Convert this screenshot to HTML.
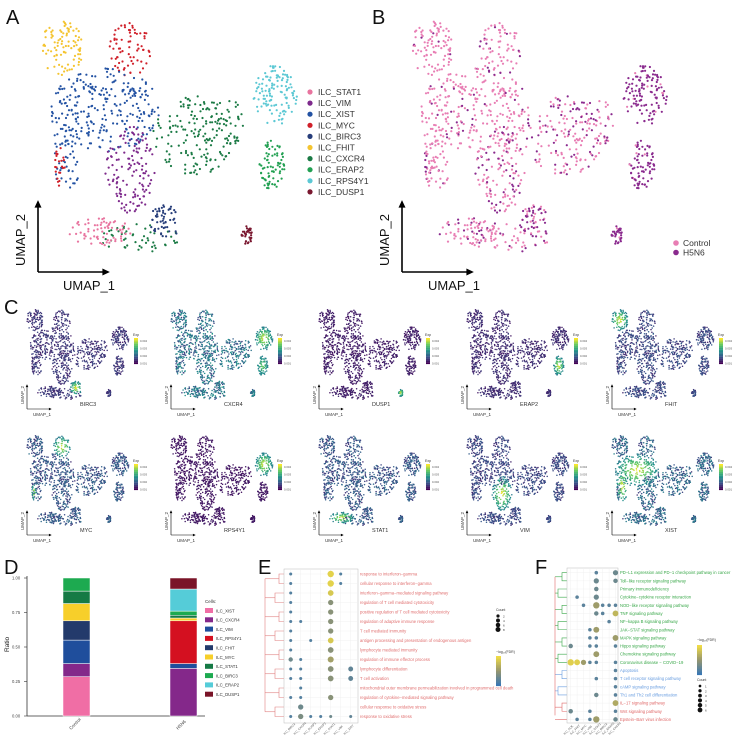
<!DOCTYPE html>
<html><head><meta charset="utf-8"><style>
body{margin:0;background:#fff}
svg{display:block;font-family:"Liberation Sans",sans-serif}
</style></head><body>
<svg id="fig" width="744" height="745" viewBox="0 0 744 745" xmlns="http://www.w3.org/2000/svg">
<g font-size="20" fill="#111">
<text x="6" y="24">A</text>
<text x="372" y="24">B</text>
<text x="4" y="314">C</text>
<text x="4" y="574">D</text>
<text x="258" y="574">E</text>
<text x="535" y="574">F</text>
</g>
<g id="pA"></g>
<g id="pB"></g>
<g id="pC"></g>
<g id="pD"></g>
<g id="pE"></g>
<g id="pF"></g>
</svg>
<script>
// ---- UMAP cluster data (centers/radii in panel-A pixel space) ----
const clusterNames=["ILC_STAT1","ILC_VIM","ILC_XIST","ILC_MYC","ILC_BIRC3","ILC_FHIT","ILC_CXCR4","ILC_ERAP2","ILC_RPS4Y1","ILC_DUSP1"];
const clusterColors=["#e8749f","#7e2a8c","#2352a3","#d0202a","#273e7a","#f4c430","#1b7a45","#22a052","#5cc8d4","#7a1830"];
// blobs: [clusterIndex, cx, cy, rx, ry, count]
const blobs=[[5,62,48,22,27,90],[3,130,50,22,27,70],[2,105,110,55,42,250],[2,68,150,15,45,60],
[1,130,170,25,45,130],[6,195,135,42,40,160],[6,140,238,40,14,50],[7,272,165,13,25,75],
[8,275,95,22,30,120],[9,247,235,6,9,35],[0,100,232,32,14,70],[4,165,222,15,18,55],
[3,60,165,5,22,22],[6,230,120,15,25,30]];
// fraction of H5N6 cells per cluster
const h5n6Frac=[0.3,0.35,0.1,0.2,0.6,0.05,0.4,0.95,0.95,0.95];
const genes=["BIRC3","CXCR4","DUSP1","ERAP2","FHIT","MYC","RPS4Y1","STAT1","VIM","XIST"];
const geneCluster=[4,8,9,7,5,3,8,0,1,2];
const geneBase=[0.15,0.35,0.08,0.12,0.2,0.25,0.06,0.25,0.2,0.3];
// ---- D data ----
const dCells=["ILC_XIST","ILC_CXCR4","ILC_VIM","ILC_RPS4Y1","ILC_FHIT","ILC_MYC","ILC_STAT1","ILC_BIRC3","ILC_ERAP2","ILC_DUSP1"];
const dColors=["#f06ea5","#84288a","#1f4e9c","#d41020","#233a6b","#f7cf2a","#157a45","#1daa50","#55ccd8","#7a1428"];
const dControl=[0.285,0.095,0.17,0,0.14,0.125,0.09,0.095,0,0];
const dH5N6=[0,0.345,0.035,0.31,0,0.02,0.02,0.03,0.16,0.08];
const dGroups=["Control","H5N6"];
const dTicks=[0,0.25,0.5,0.75,1.0];
// ---- E data ----
const eTerms=["response to interferon−gamma","cellular response to interferon−gamma","interferon−gamma−mediated signaling pathway","regulation of T cell mediated cytotoxicity","positive regulation of T cell mediated cytotoxicity","regulation of adaptive immune response","T cell mediated immunity","antigen processing and presentation of endogenous antigen","lymphocyte mediated immunity","regulation of immune effector process","lymphocyte differentiation","T cell activation","mitochondrial outer membrane permeabilization involved in programmed cell death","regulation of cytokine−mediated signaling pathway","cellular response to oxidative stress","response to oxidative stress"];
const eCols=["ILC_BIRC3","ILC_CXCR4","ILC_DUSP1","ILC_ERAP2","ILC_STAT1","ILC_VIM","ILC_XIST"];
// dots: [row,col,count,-log10FDR]
const eDots=[[0,0,1,1],[0,4,8,6.5],[0,5,1,1],[1,0,1,1],[1,4,8,6.5],[1,5,1,1],[2,0,1,1],[2,4,6,6],[3,0,1,1],[3,4,5,3],[4,0,1,1],[4,4,5,3],[5,0,1,1],[5,1,1,1],[5,4,5,3],[6,0,1,1],[6,4,5,3],[7,0,1,1],[7,2,1,1],[7,4,6,6],[8,0,1,1],[8,4,6,3],[9,0,3,2],[9,1,1,1],[9,4,7,4],[10,0,1,1],[10,1,1,1],[10,4,6,3],[10,6,4,1.5],[11,0,1,1],[11,1,1,1],[11,4,6,3],[11,6,4,1.5],[12,1,1,1],[13,0,1,1],[13,1,1,1],[13,4,5,3],[14,1,5,2],[15,0,1,1],[15,1,5,2.5],[15,2,1,1],[15,3,1,1],[15,4,1,2],[15,6,1,1.5]];
// ---- F data ----
const fTerms=["PD−L1 expression and PD−1 checkpoint pathway in cancer","Toll−like receptor signaling pathway","Primary immunodeficiency","Cytokine−cytokine receptor interaction","NOD−like receptor signaling pathway","TNF signaling pathway","NF−kappa B signaling pathway","JAK−STAT signaling pathway","MAPK signaling pathway","Hippo signaling pathway","Chemokine signaling pathway","Coronavirus disease − COVID−19","Apoptosis","T cell receptor signaling pathway","cAMP signaling pathway","Th1 and Th2 cell differentiation","IL−17 signaling pathway","Wnt signaling pathway","Epstein−Barr virus infection"];
const fGroup=[0,0,0,0,0,0,0,0,0,0,0,0,1,1,1,1,2,2,2];
const fCols=["ILC_ACK","ILC_FHIT","ILC_MYC","ILC_VIM","ILC_STAT1","ILC_BIRC3","ILC_ERAP2","ILC_CXCR4"];
const fDots=[[0,4,1,1],[0,7,3,1.5],[1,4,3,1.5],[1,7,2,1.5],[2,4,2,1.5],[3,1,1,1],[3,4,3,1.5],[4,2,1,1],[4,4,5,3],[4,5,1,1],[4,6,1,1],[4,7,1,1],[5,4,2,1.5],[5,5,1,1],[5,7,4,4],[6,6,1,1],[7,3,1,1],[7,4,4,3],[8,3,1,1],[8,4,1,1],[8,7,4,3],[9,0,2,1.5],[9,3,1,1],[9,4,1,1],[9,7,1,1],[10,4,4,3],[11,0,5,5],[11,1,4,5],[11,2,3,3],[11,3,1,1],[11,4,1,1],[11,7,1,1],[12,7,1,1],[13,4,1,1],[13,7,1,1],[14,7,1,1],[15,4,2,1.5],[15,7,1,1],[16,7,4,3.5],[17,0,2,1.5],[17,3,1,1],[17,7,1,1],[18,1,1,1],[18,3,1,1],[18,4,5,3],[18,7,2,1.5]];

const NS="http://www.w3.org/2000/svg";
function mk(p,tag,at){const e=document.createElementNS(NS,tag);for(const k in at)e.setAttribute(k,at[k]);p.appendChild(e);return e;}
function txt(p,x,y,s,fs,fill,extra){const e=mk(p,"text",Object.assign({x:x,y:y,"font-size":fs,fill:fill||"#222"},extra||{}));e.textContent=s;return e;}
// seeded generator (for point texture inside blobs only)
let seed=12345;function rnd(){seed|=0;seed=seed+0x6D2B79F5|0;let t=Math.imul(seed^seed>>>15,1|seed);t=t+Math.imul(t^t>>>7,61|t)^t;return((t^t>>>14)>>>0)/4294967296;}
const pts=[];
blobs.forEach(b=>{for(let i=0;i<b[5];i++){const a=rnd()*2*Math.PI,r=Math.sqrt(rnd());const X=b[1]+Math.cos(a)*r*b[3],Y=b[2]+Math.sin(a)*r*b[4];pts.push({c:b[0],X:X,Y:Y,d:r,h:rnd()});}});
const vir=[[68,1,84],[59,82,139],[33,145,140],[94,201,98],[253,231,37]];
function viridis(t){t=Math.max(0,Math.min(1,t))*4;const i=Math.min(3,Math.floor(t)),f=t-i;const a=vir[i],b=vir[i+1];return`rgb(${a.map((v,k)=>Math.round(v+(b[k]-v)*f)).join(",")})`;}
function arrows(g,ox,oy,len,fs,sw){
 mk(g,"line",{x1:ox,y1:oy,x2:ox,y2:oy-len,stroke:"#000","stroke-width":sw});
 mk(g,"line",{x1:ox,y1:oy,x2:ox+len,y2:oy,stroke:"#000","stroke-width":sw});
 const a=sw*3.5;mk(g,"path",{d:`M${ox-a/1.6},${oy-len+a} L${ox},${oy-len-a/3} L${ox+a/1.6},${oy-len+a}Z`,fill:"#000"});
 mk(g,"path",{d:`M${ox+len-a},${oy-a/1.6} L${ox+len+a/3},${oy} L${ox+len-a},${oy+a/1.6}Z`,fill:"#000"});
}
// ---- Panel A ----
const gA=document.getElementById("pA");
pts.forEach(p=>{const e=mk(gA,"circle",{cx:p.X.toFixed(1),cy:p.Y.toFixed(1),r:1.1,fill:clusterColors[p.c]});

});
arrows(gA,38,272,70,13,1.6);
txt(gA,63,290,"UMAP_1",13,"#111");
txt(gA,0,0,"UMAP_2",13,"#111",{transform:"translate(25,266) rotate(-90)"});
clusterNames.forEach((n,i)=>{const y=92+i*11.1;
 const d=mk(gA,"circle",{cx:310,cy:y,r:2.6,fill:clusterColors[i]});
 
 
 txt(gA,318,y+3,n,8.5,"#333");});
// ---- Panel B ----
const gB=document.getElementById("pB");
pts.forEach(p=>{const h5=p.h<h5n6Frac[p.c];const e=mk(gB,"circle",{cx:(p.X+370).toFixed(1),cy:p.Y.toFixed(1),r:1.1,fill:h5?"#8a2a8e":"#e87eb4"});

});
arrows(gB,402,272,70,13,1.6);
txt(gB,428,290,"UMAP_1",13,"#111");
txt(gB,0,0,"UMAP_2",13,"#111",{transform:"translate(389,266) rotate(-90)"});
[["Control","#e87eb4"],["H5N6","#8a2a8e"]].forEach((l,i)=>{const y=243+i*9.5;
 const d=mk(gB,"circle",{cx:676,cy:y,r:2.8,fill:l[1]});
 
 
 txt(gB,683,y+3,l[0],8.5,"#333");});
// ---- Panel C ----
const gC=document.getElementById("pC");
const colX=[28,172,320,468,613],rowY=[306,432];
genes.forEach((gname,gi)=>{
 const cx=colX[gi%5],ry=rowY[Math.floor(gi/5)];
 const g=mk(gC,"g",{});
 
 
 const hc=geneCluster[gi];
 const arr=pts.map(p=>{let v=geneBase[gi]*(0.5+p.h);if(p.c===hc)v=Math.max(v,1-p.d*0.6);if(gname==="CXCR4"&&p.c===7)v=Math.max(v,0.8-p.d*0.4);return{p:p,v:v};});
 arr.sort((a,b)=>a.v-b.v).forEach(o=>{mk(g,"circle",{cx:(cx+(o.p.X-45)*0.4).toFixed(1),cy:(ry+(o.p.Y-12)*0.39).toFixed(1),r:0.75,fill:viridis(o.v)});});
 arrows(g,cx-1,ry+103,24,5,0.6);
 txt(g,cx+5,ry+110,"UMAP_1",4.5,"#333");
 txt(g,0,0,"UMAP_2",4.5,"#333",{transform:`translate(${cx-4},${ry+98}) rotate(-90)`});
 txt(g,cx+52,ry+100,gname,5.5,"#333");
 txt(g,cx+105,ry+30,"Exp",3.5,"#333");
 for(let k=0;k<20;k++)mk(g,"rect",{x:cx+106,y:ry+32+k*1.3,width:4,height:1.4,fill:viridis(1-k/19)});
 for(let k=0;k<4;k++)txt(g,cx+112,ry+36+k*7.5,"0.00"+(4-k),2.8,"#555");
});
// ---- Panel D ----
const gD=document.getElementById("pD");
const y0=716,y1=578;const yv=v=>y0-v*(y0-y1);
mk(gD,"line",{x1:27,y1:576,x2:27,y2:716,stroke:"#333","stroke-width":0.8});
mk(gD,"line",{x1:27,y1:716,x2:205,y2:716,stroke:"#333","stroke-width":0.8});
dTicks.forEach(t=>{mk(gD,"line",{x1:24,y1:yv(t),x2:27,y2:yv(t),stroke:"#333","stroke-width":0.6});txt(gD,12,yv(t)+1.5,t.toFixed(2),4.2,"#444");});
txt(gD,0,0,"Ratio",6.5,"#222",{transform:"translate(9,652) rotate(-90)"});
const barX=[63,170];
[dControl,dH5N6].forEach((vals,gi)=>{let acc=0;vals.forEach((v,i)=>{if(v<=0)return;
 const r=mk(gD,"rect",{x:barX[gi],y:yv(acc+v),width:27,height:yv(acc)-yv(acc+v),fill:dColors[i],stroke:"#fff","stroke-width":0.5});
 
 acc+=v;});
 txt(gD,0,0,dGroups[gi],4.5,"#444",{transform:`translate(${barX[gi]+8},${730}) rotate(-45)`});});
txt(gD,205,603,"Cells:",4.5,"#333");
dCells.forEach((n,i)=>{const y=608+i*9.3;const r=mk(gD,"rect",{x:205,y:y,width:8,height:5,fill:dColors[i]});
 
 
 txt(gD,216,y+4.3,n,4.3,"#333");});
// ---- dot plot helper ----
function viridisBlue(t){t=Math.max(0,Math.min(1,t));const a=[57,119,180],b=[150,150,110],c=[240,220,70];let r;if(t<0.5){const f=t*2;r=a.map((v,k)=>v+(b[k]-v)*f);}else{const f=(t-0.5)*2;r=b.map((v,k)=>v+(c[k]-v)*f);}return`rgb(${r.map(Math.round).join(",")})`;}
function dotplot(g,terms,cols,dots,box,rowY0,rowStep,colX0,colStep,labelColor,rmax,cmax){
 mk(g,"rect",{x:box[0],y:box[1],width:box[2],height:box[3],fill:"none",stroke:"#bbb","stroke-width":0.5});
 terms.forEach((t,i)=>{const y=rowY0+i*rowStep;mk(g,"line",{x1:box[0],y1:y,x2:box[0]+box[2],y2:y,stroke:"#eee","stroke-width":0.4});
  const e=txt(g,box[0]+box[2]+2,y+1.5,t,4.2,labelColor(i));
  
  });
 cols.forEach((c,j)=>{const x=colX0+j*colStep;mk(g,"line",{x1:x,y1:box[1],x2:x,y2:box[1]+box[3],stroke:"#eee","stroke-width":0.4});
  txt(g,0,0,c,3,"#555",{transform:`translate(${x-6},${box[1]+box[3]+12}) rotate(-45)`});});
 dots.forEach(d=>{const c=mk(g,"circle",{cx:colX0+d[1]*colStep,cy:rowY0+d[0]*rowStep,r:0.6+Math.sqrt(d[2]/rmax)*2.6,fill:viridisBlue(d[3]/cmax)});
  
  });
}
function dendro(g,x0,x1,ys,color){
 for(let i=0;i<ys.length;i+=2){const a=ys[i],b=ys[Math.min(i+1,ys.length-1)];const xm=x1-5-(i%4)*2;
  mk(g,"path",{d:`M${x1},${a} H${xm} V${b} H${x1}`,fill:"none",stroke:color(i),"stroke-width":0.6});
  mk(g,"line",{x1:xm,y1:(a+b)/2,x2:x0,y2:(a+b)/2,stroke:color(i),"stroke-width":0.6});}
 mk(g,"line",{x1:x0,y1:(ys[0]+ys[1])/2,x2:x0,y2:(ys[ys.length-2]+ys[ys.length-1])/2,stroke:color(ys.length-1),"stroke-width":0.6});
}
// ---- Panel E ----
const gE=document.getElementById("pE");
const eRows=eTerms.map((t,i)=>574+i*9.5);
dendro(gE,265,284,eRows,()=>"#e08080");
dotplot(gE,eTerms,eCols,eDots,[284,569,74,154],574,9.5,290.7,10,()=>"#e07070",8,7);
txt(gE,496,611,"Count",3.5,"#333");
[2,4,6,8].forEach((c,i)=>{mk(gE,"circle",{cx:498,cy:616+i*4.5,r:0.7+Math.sqrt(c/8)*1.8,fill:"#111"});txt(gE,503,617.5+i*4.5,c,3,"#333");});
txt(gE,496,653,"−log₁₀(FDR)",3.5,"#333");
for(let k=0;k<20;k++)mk(gE,"rect",{x:496,y:656+k*1.5,width:5,height:1.6,fill:viridisBlue(1-k/19)});
// ---- Panel F ----
const gF=document.getElementById("pF");
const fColor=i=>["#3aa84a","#6a9ee0","#e06a6a"][fGroup[i]];
const fRows=fTerms.map((t,i)=>572.7+i*8.15);
dendro(gF,555,567,fRows,i=>fColor(i));
dotplot(gF,fTerms,fCols,fDots,[567,568,51,155],572.7,8.15,570.7,6.4,fColor,5,5.5);
txt(gF,697,641,"−log₁₀(FDR)",3.5,"#333");
for(let k=0;k<20;k++)mk(gF,"rect",{x:697,y:645+k*1.5,width:5,height:1.6,fill:viridisBlue(1-k/19)});
txt(gF,697,681,"Count",3.5,"#333");
[1,2,3,4,5,6].forEach((c,i)=>{mk(gF,"circle",{cx:700,cy:686+i*4.8,r:0.6+Math.sqrt(c/6)*1.8,fill:"#111"});txt(gF,705,687.5+i*4.8,c,3,"#333");});
</script>
</body></html>
